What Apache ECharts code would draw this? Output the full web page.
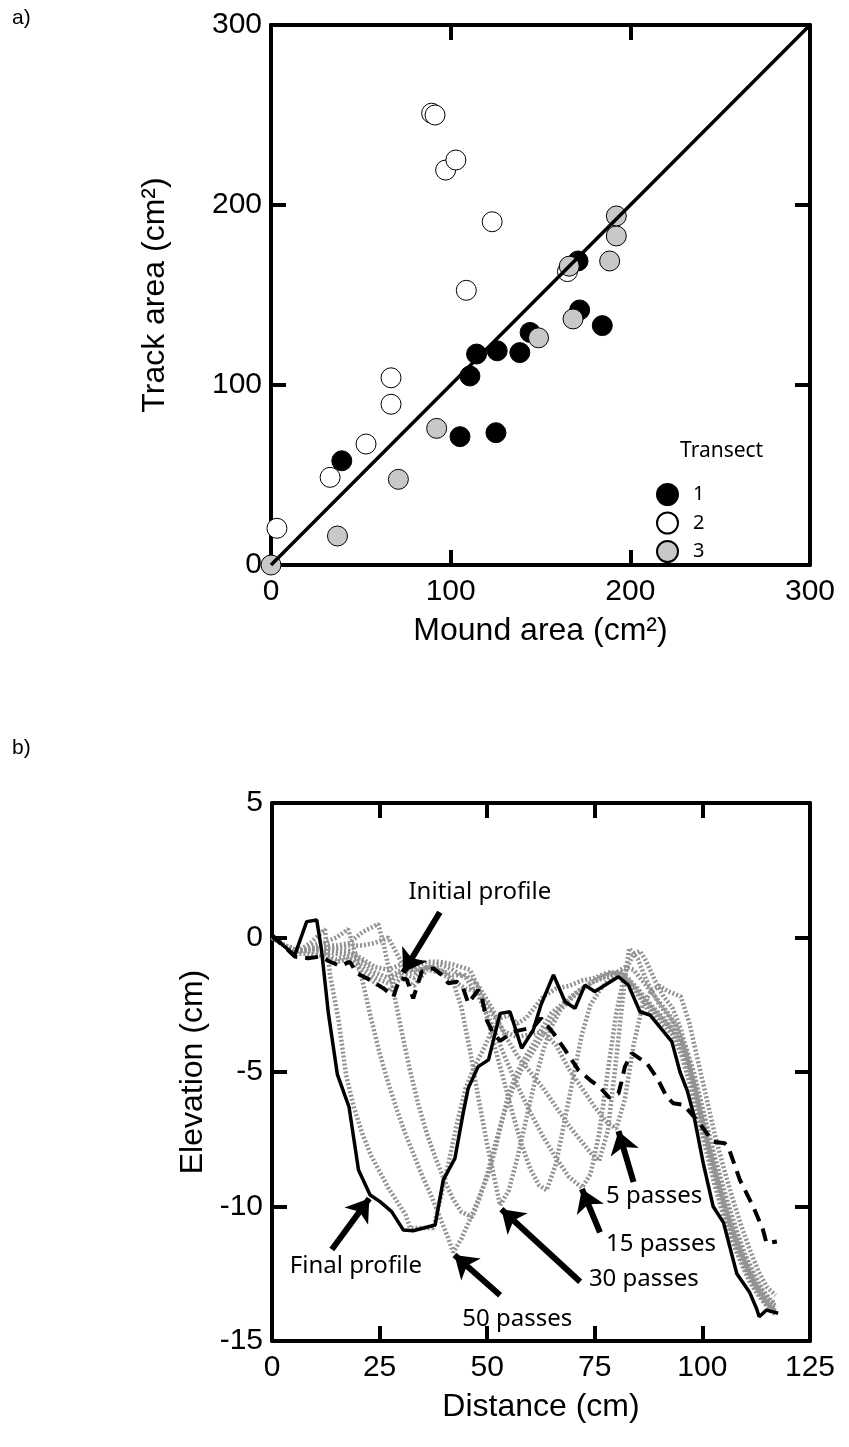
<!DOCTYPE html>
<html><head><meta charset="utf-8">
<script src="https://cdn.jsdelivr.net/npm/echarts/dist/echarts.min.js"></script>
<style>html,body{margin:0;padding:0;background:#fff}#c{width:849px;height:1447px}</style>
</head><body><div id="c"></div>
<script>
// ---------- Panel a data ----------
const transect1 = [[39.4,57.9],[105.2,71.3],[125.2,73.5],[110.7,105],[114.4,117.2],[125.9,119],[138.5,118],[144.2,129.2],[171.8,141.7],[184.4,133],[170.9,168.9]];
const transect2 = [[3.3,20.4],[32.9,48.7],[52.9,67.2],[66.8,89.3],[66.8,104],[108.7,152.6],[123.1,190.7],[97.2,219.4],[102.9,225],[89.4,251],[91.3,250],[165,163]];
const transect3 = [[0,0],[37,16.1],[70.9,47.6],[92.2,75.9],[148.9,126.2],[168.1,136.7],[166,166],[188.5,168.9],[192.2,182.8],[192.2,193.9]];
const oneToOne = [[0,0],[300,300]];

// ---------- Panel b data ----------
const initialProfile = [[0,0.1],[1.1,-0.09],[3,-0.35],[5.3,-0.71],[8.4,-0.77],[11.2,-0.71],[13.5,-0.9],[15.8,-1.06],[18.1,-0.9],[19.7,-1.33],[22.8,-1.58],[25.9,-1.89],[28.2,-2.2],[29.7,-1.52],[31.3,-1.55],[32.8,-2.26],[34.8,-1.27],[37.5,-1.15],[39.4,-1.39],[41,-1.7],[42.9,-1.64],[44.3,-1.83],[45.6,-2.45],[47.9,-1.95],[48.7,-2.2],[49.9,-3.07],[51.4,-3.56],[53,-3.84],[56.1,-3.5],[60.7,-3.34],[62.5,-3.0],[65.4,-3.56],[68.1,-4.18],[71.2,-4.93],[73.9,-5.3],[76.4,-5.6],[78.3,-5.95],[80.5,-5.8],[81.2,-5.36],[82,-4.8],[83.6,-4.3],[87.1,-4.68],[89.6,-5.26],[91.7,-5.92],[93.2,-6.16],[95.6,-6.22],[98.7,-6.78],[102.5,-7.59],[105.2,-7.65],[106,-7.78],[108.7,-9.01],[111.8,-10.0],[114.1,-10.87],[114.9,-11.37],[117.3,-11.3]];
const finalProfile = [[0,0],[0.7,-0.03],[3,-0.35],[5.3,-0.65],[8.06,0.59],[10.4,0.65],[11.5,-0.46],[13.1,-2.82],[15.2,-5.1],[17.9,-6.3],[20.1,-8.64],[22.8,-9.57],[25.1,-9.82],[27.8,-10.19],[30.5,-10.87],[32.8,-10.9],[37.9,-10.69],[39.8,-9.01],[42.5,-8.21],[44.4,-6.54],[45.6,-5.6],[47.9,-4.8],[50.3,-4.55],[53,-2.82],[55.3,-2.76],[58,-4.12],[60.7,-3.44],[62.5,-2.5],[65.4,-1.39],[68.1,-2.39],[70.4,-2.63],[72.7,-1.77],[75,-2.01],[80.5,-1.46],[82.8,-1.77],[85.5,-2.76],[87.8,-2.88],[92.9,-3.87],[94.8,-5.0],[96.5,-5.7],[98,-6.6],[100.2,-8.4],[102.5,-10],[104.9,-10.6],[108,-12.5],[111,-13.2],[112.6,-13.8],[113.2,-14.1],[114.9,-13.85],[117.6,-13.97]];
const passes5 = [[0,0],[3,-0.3],[6,-0.6],[9,-0.6],[12,-0.7],[15,-0.9],[18,-0.8],[21,-1.3],[24,-1.7],[27,-2.0],[30,-1.5],[33,-1.8],[36,-1.2],[39,-1.3],[42,-1.6],[45,-1.9],[48,-2.0],[51,-2.8],[54,-3.5],[57,-3.7],[60,-3.6],[63,-3.5],[66,-4.0],[69,-4.9],[72,-5.6],[75,-6.3],[78,-6.9],[80,-7.1],[82,-6.0],[84,-4.0],[86,-2.6],[88,-2.0],[90,-1.8],[92,-2.0],[95,-2.2],[97,-3.2],[99,-4.6],[101,-6.0],[103,-7.4],[105,-8.6],[107,-9.7],[109,-10.7],[111,-11.6],[113,-12.4],[115,-13.0],[117,-13.3]];
const passes10 = [[0,0],[3,-0.3],[6,-0.5],[9,-0.5],[12,-0.6],[15,-0.8],[18,-0.7],[21,-1.1],[24,-1.5],[27,-1.7],[30,-1.3],[33,-1.5],[36,-1.1],[39,-1.2],[42,-1.4],[45,-1.4],[48,-1.8],[51,-2.6],[54,-3.6],[57,-4.4],[60,-5.0],[63,-5.6],[66,-6.3],[69,-7.0],[72,-7.6],[74,-8.0],[76,-8.3],[78,-7.2],[80,-4.5],[82,-1.5],[83,-0.4],[85,-0.8],[87,-1.6],[90,-2.5],[93,-3.1],[96,-4.0],[98,-5.0],[100,-6.3],[102,-7.6],[104,-8.8],[106,-9.9],[108,-10.9],[110,-11.8],[112,-12.5],[114,-13.1],[116,-13.5],[117,-13.6]];
const passes15 = [[0,0],[3,-0.3],[6,-0.5],[9,-0.4],[12,-0.5],[15,-0.6],[18,-0.6],[21,-0.9],[24,-1.3],[27,-1.5],[30,-1.2],[33,-1.3],[36,-1.1],[39,-1.0],[42,-1.2],[45,-1.5],[48,-2.2],[51,-3.2],[54,-4.4],[57,-5.5],[60,-6.5],[63,-7.4],[66,-8.2],[69,-8.9],[72,-9.3],[74,-8.8],[76,-7.3],[78,-5.0],[80,-2.8],[82,-1.3],[84,-0.6],[85.5,-0.5],[87,-0.9],[89,-1.6],[91,-2.2],[93,-2.6],[95,-3.4],[97,-4.6],[99,-5.8],[101,-7.1],[103,-8.4],[105,-9.6],[107,-10.6],[109,-11.5],[111,-12.3],[113,-12.9],[115,-13.4],[117,-13.7]];
const passes20 = [[0,0],[3,-0.3],[6,-0.5],[9,-0.4],[12,-0.4],[15,-0.5],[18,-0.5],[21,-0.8],[24,-1.1],[27,-1.2],[30,-1.0],[33,-1.1],[36,-0.9],[39,-0.9],[42,-1.0],[44,-1.1],[46,-1.2],[48,-1.9],[50,-3.0],[52,-4.2],[54,-5.4],[56,-6.6],[58,-7.7],[60,-8.6],[62,-9.2],[63.8,-9.4],[66,-8.4],[68,-6.8],[70,-5.2],[72,-3.6],[74,-2.5],[76,-2.0],[78,-1.6],[80,-1.3],[82,-1.1],[84,-1.2],[86,-1.6],[88,-2.0],[90,-2.4],[92,-2.8],[94,-3.3],[96,-4.2],[98,-5.4],[100,-6.8],[102,-8.1],[104,-9.3],[106,-10.4],[108,-11.3],[110,-12.1],[112,-12.8],[114,-13.3],[116,-13.7],[117,-13.8]];
const passes30 = [[0,0],[3,-0.3],[6,-0.5],[9,-0.4],[12,-0.4],[15,-0.4],[18,-0.3],[21,-0.3],[24,-0.2],[27,0.0],[29,-0.6],[31,-1.2],[34,-1.2],[37,-1.1],[40,-1.3],[42,-1.6],[44,-2.6],[46,-4.2],[48,-6.0],[50,-7.7],[52,-9.2],[53,-9.96],[55,-9.4],[57,-8.2],[59,-6.8],[61,-5.4],[63,-4.2],[65,-3.3],[67,-2.7],[70,-2.2],[73,-1.8],[76,-1.5],[79,-1.3],[82,-1.4],[85,-1.9],[88,-2.5],[91,-3.0],[94,-3.6],[96,-4.4],[98,-5.6],[100,-7.0],[102,-8.3],[104,-9.5],[106,-10.6],[108,-11.5],[110,-12.3],[112,-12.9],[114,-13.4],[116,-13.8],[117,-13.9]];
const passes40 = [[0,0],[3,-0.3],[6,-0.5],[9,-0.4],[12,-0.3],[15,-0.3],[18,-0.2],[21,0.2],[24.7,0.5],[26,-0.3],[28,-1.8],[30,-3.4],[32,-4.9],[34,-6.2],[36,-7.3],[38,-8.2],[40,-9.0],[42,-9.7],[44,-10.2],[46.5,-10.4],[48,-9.8],[50,-8.8],[52,-7.6],[54,-6.5],[56,-5.6],[58,-4.9],[60,-4.4],[62,-3.9],[64,-3.3],[66,-2.8],[69,-2.3],[72,-1.9],[75,-1.6],[78,-1.4],[81,-1.4],[84,-1.8],[87,-2.4],[90,-2.9],[93,-3.4],[95,-4.0],[97,-5.0],[99,-6.3],[101,-7.6],[103,-8.9],[105,-10.0],[107,-11.0],[109,-11.8],[111,-12.5],[113,-13.1],[115,-13.6],[117,-13.9]];
const passes50 = [[0,0],[3,-0.3],[6,-0.5],[9,-0.3],[12,-0.2],[15,0.0],[17.7,0.31],[19,-0.4],[21,-1.6],[23,-3.0],[25,-4.3],[27,-5.4],[29,-6.4],[31,-7.3],[33,-8.1],[35,-8.9],[37,-9.6],[39,-10.4],[41,-11.2],[42.1,-11.7],[44,-11.2],[46.5,-10.3],[48.5,-9.5],[50.3,-8.8],[52,-7.8],[53.4,-6.8],[55,-5.8],[57,-5.0],[59,-4.4],[61,-3.9],[63,-3.3],[65,-2.8],[68,-2.4],[71,-2.0],[74,-1.7],[77,-1.5],[80,-1.4],[83,-1.6],[86,-2.3],[89,-2.8],[92,-3.3],[94,-3.8],[96,-4.7],[98,-5.9],[100,-7.2],[102,-8.5],[104,-9.7],[106,-10.8],[108,-11.7],[110,-12.4],[112,-13.0],[114,-13.5],[116,-13.9],[117,-14.0]];
const passes75 = [[0,0],[3,-0.3],[6,-0.5],[9,-0.2],[12.3,0.31],[13.5,-1.4],[15.5,-3.1],[17.2,-5.1],[19,-6.3],[21,-7.3],[23,-8.1],[25,-8.7],[27,-9.3],[29,-9.8],[31,-10.3],[32.1,-10.8],[34,-10.8],[36,-10.8],[37.5,-10.8],[39,-9.8],[41,-8.4],[43,-6.9],[45,-5.6],[47,-4.8],[49,-4.2],[51,-3.5],[53,-3.0],[55,-2.9],[57,-3.2],[59,-3.0],[61,-2.6],[63,-2.2],[66,-1.9],[69,-1.8],[72,-1.6],[75,-1.5],[78,-1.3],[81,-1.3],[84,-1.9],[87,-2.6],[90,-3.1],[93,-3.6],[95,-4.3],[97,-5.4],[99,-6.7],[101,-8.0],[103,-9.3],[105,-10.4],[107,-11.3],[109,-12.1],[111,-12.8],[113,-13.3],[115,-13.7],[117,-13.9]];

// annotation texts [label, x, y] and arrows [[x1,y1],[x2,y2]] in data units
const noteLabels = [['Initial profile',48.3,1.69],['Final profile',19.5,-12.2],['50 passes',57,-14.2],['30 passes',86.4,-12.7],['15 passes',90.4,-11.4],['5 passes',88.8,-9.6]];
const noteArrows = [[[39,0.94],[30.5,-1.3]],[[13.9,-11.6],[22.6,-9.7]],[[53,-13.3],[42.4,-11.8]],[[71.6,-12.8],[53.3,-10.1]],[[76.2,-10.96],[72,-9.35]],[[84,-9.09],[80.5,-7.2]]];

const FONT = 'Liberation Sans, Arial, sans-serif';
const NOTE = 'Noto Sans, Open Sans, sans-serif';

function xAx(grid, min, max, interval, pos, name, gap) {
  return {gridIndex:grid, type:'value', min:min, max:max, interval:interval, position:pos,
    axisLine:{show:true, onZero:false, lineStyle:{color:'#000', width:4}},
    axisTick:{show:true, inside:true, length:15, lineStyle:{color:'#000', width:4}},
    axisLabel:{show:pos==='bottom', fontSize:30, color:'#000', fontFamily:FONT, margin:12},
    splitLine:{show:false},
    name:name||'', nameLocation:'middle', nameGap:gap||0,
    nameTextStyle:{fontSize:32, color:'#000', fontFamily:FONT}};
}
function yAx(grid, min, max, interval, pos, name, gap) {
  return {gridIndex:grid, type:'value', min:min, max:max, interval:interval, position:pos,
    axisLine:{show:true, onZero:false, lineStyle:{color:'#000', width:4}},
    axisTick:{show:true, inside:true, length:15, lineStyle:{color:'#000', width:4}},
    axisLabel:{show:pos==='left', fontSize:30, color:'#000', fontFamily:FONT, margin:9},
    splitLine:{show:false},
    name:name||'', nameLocation:'middle', nameGap:gap||0,
    nameTextStyle:{fontSize:32, color:'#000', fontFamily:FONT}};
}

const greySets = [passes5, passes10, passes15, passes20, passes30, passes40, passes50, passes75];
const greySeries = greySets.map((d, i) => ({
  type:'line', name:'g'+i, xAxisIndex:2, yAxisIndex:2, data:d, symbol:'none', silent:true,
  lineStyle:{color:'#929292', width:4.5, type:[2,2]}, z:2
}));

const option = {
  animation:false,
  backgroundColor:'#fff',
  grid:[{left:271, top:25, width:539, height:540},{left:272, top:803, width:538, height:538}],
  xAxis:[xAx(0,0,300,100,'bottom','Mound area (cm²)',50), xAx(0,0,300,100,'top'),
         xAx(1,0,125,25,'bottom','Distance (cm)',50), xAx(1,0,125,25,'top')],
  yAxis:[yAx(0,0,300,100,'left','Track area (cm²)',100), yAx(0,0,300,100,'right'),
         yAx(1,-15,5,5,'left','Elevation (cm)',62), yAx(1,-15,5,5,'right')],
  legend:{orient:'vertical', left:651, top:478, itemWidth:21, itemHeight:21, itemGap:5.5, icon:'circle',
    data:['1','2','3'], textStyle:{fontSize:20, lineHeight:21, fontFamily:NOTE, color:'#000', padding:[0,0,0,10]}},
  series:[
    {type:'scatter', name:'1', xAxisIndex:0, yAxisIndex:0, data:transect1, symbolSize:20,
     itemStyle:{color:'#000', borderColor:'#000', borderWidth:1, opacity:1}, z:3},
    {type:'scatter', name:'2', xAxisIndex:0, yAxisIndex:0, data:transect2, symbolSize:20,
     itemStyle:{color:'#fff', borderColor:'#000', borderWidth:1, opacity:1}, z:3},
    {type:'scatter', name:'3', xAxisIndex:0, yAxisIndex:0, data:transect3, symbolSize:20,
     itemStyle:{color:'#c8c8c8', borderColor:'#000', borderWidth:1, opacity:1}, z:3},
    {type:'line', name:'1:1', xAxisIndex:0, yAxisIndex:0, data:oneToOne, symbol:'none', silent:true,
     lineStyle:{color:'#000', width:3.5}, z:5},
    ...greySeries,
    {type:'line', name:'Initial', xAxisIndex:2, yAxisIndex:2, data:initialProfile, symbol:'none', silent:true,
     lineStyle:{color:'#000', width:4, type:[13,8]}, z:4},
    {type:'line', name:'Final', xAxisIndex:2, yAxisIndex:2, data:finalProfile, symbol:'none', silent:true,
     lineStyle:{color:'#000', width:3.5}, z:5},
    {type:'lines', name:'arrows', coordinateSystem:'cartesian2d', xAxisIndex:2, yAxisIndex:2, silent:true,
     symbol:['none','arrow'], symbolSize:[0,22], lineStyle:{color:'#000', width:6, opacity:1, curveness:0},
     data:noteArrows.map(a => ({coords:a})), z:6}
  ],
  graphic:[]
};

const chart = echarts.init(document.getElementById('c'), null, {renderer:'canvas'});
chart.setOption(option);

const g = [
  {type:'text', left:12, top:8, style:{text:'a)', fontSize:21, fontFamily:FONT, fill:'#000'}},
  {type:'text', left:12, top:738, style:{text:'b)', fontSize:21, fontFamily:FONT, fill:'#000'}},
  {type:'text', left:680, top:441, style:{text:'Transect', fontSize:21, fontFamily:NOTE, fill:'#000'}}
];
noteLabels.forEach(n => {
  const p = chart.convertToPixel({xAxisIndex:2, yAxisIndex:2}, [n[1], n[2]]);
  g.push({type:'text', x:p[0], y:p[1], z:10,
    style:{text:n[0], fontSize:24, fontFamily:NOTE, fill:'#000', align:'center', verticalAlign:'middle'}});
});
chart.setOption({graphic:g});
</script></body></html>
